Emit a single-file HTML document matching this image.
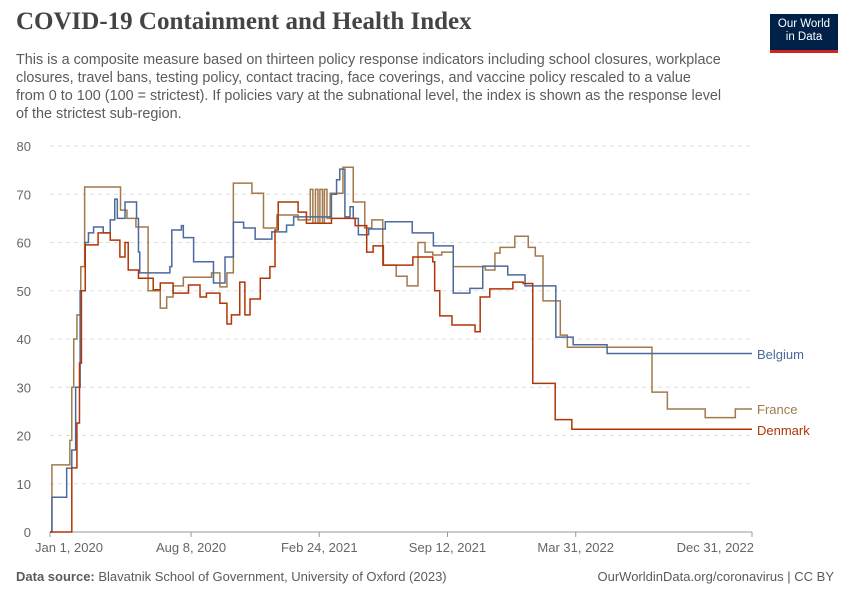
<!DOCTYPE html>
<html><head><meta charset="utf-8"><style>
body{margin:0;background:#fff;width:850px;height:600px;overflow:hidden;font-family:"Liberation Sans",sans-serif;}
#t{position:absolute;left:16px;top:8px;font-family:"Liberation Serif",serif;font-size:25px;font-weight:bold;color:#444;}
#s{position:absolute;left:16px;top:51px;white-space:nowrap;font-size:14.4px;line-height:18px;color:#5b5b5b;}
#logo{position:absolute;left:770px;top:14px;width:68px;height:39px;background:#002147;color:#fff;font-size:11.5px;line-height:13px;text-align:center;padding-top:4px;box-sizing:border-box;border-bottom:3px solid #ce261e;}
.f{position:absolute;top:569px;font-size:13px;color:#5b5b5b;}
</style></head><body>
<div id="t">COVID-19 Containment and Health Index</div>
<div id="s">This is a composite measure based on thirteen policy response indicators including school closures, workplace<br>closures, travel bans, testing policy, contact tracing, face coverings, and vaccine policy rescaled to a value<br>from 0 to 100 (100 = strictest). If policies vary at the subnational level, the index is shown as the response level<br>of the strictest sub-region.</div>
<div id="logo">Our World<br>in Data</div>
<div class="f" style="left:16px"><b>Data source:</b> Blavatnik School of Government, University of Oxford (2023)</div>
<div class="f" style="right:16px">OurWorldinData.org/coronavirus | CC BY</div>
<svg id="c" width="850" height="600" style="position:absolute;left:0;top:0"></svg>
<script>
const yTicks=[0,10,20,30,40,50,60,70,80];
const xTickDays=[0,220,420,620,820,1095];
const xTickLabels=["Jan 1, 2020","Aug 8, 2020","Feb 24, 2021","Sep 12, 2021","Mar 31, 2022","Dec 31, 2022"];
const seriesNames=["Belgium","France","Denmark"];
const seriesColors=["#4c6a9c","#a2794b","#b13507"];
const belgium=[[0,0],[3,7.2],[26,13.2],[34,17],[40,30],[47,50],[55,60],[60,62],[68,63.2],[83,62],[94,64.7],[101,69],[105,65],[109,65],[117,68.4],[135,65],[138,58],[140,53.7],[187,55],[190,62.6],[200,62.6],[205,63.5],[208,61],[224,56],[255,51.6],[273,57],[286,64.2],[302,63],[320,60.7],[346,62.2],[369,63.6],[380,65.3],[439,70],[447,73],[452,75.2],[460,65.3],[468,67.4],[473,65],[481,61.6],[497,62.8],[523,64.3],[565,62],[598,59.3],[629,49.5],[655,50.5],[675,55.1],[714,53.3],[741,51],[789,40.4],[816,38.8],[869,37],[1095,37]];
const france=[[0,0],[3,13.9],[31,19],[34,30],[37,40],[42,45],[48,55],[54,71.5],[110,66.7],[120,65],[134,63.2],[153,50],[172,46.4],[182,48.7],[192,51],[208,52.8],[252,53.7],[265,50.8],[276,53.7],[286,72.3],[315,70.2],[333,63],[354,65.7],[387,64.7],[406,71],[410,64],[414,71],[418,64],[421,71],[425,64],[428,71],[432,65],[437,70.2],[457,75.6],[473,68.4],[491,63],[502,64.7],[519,55.3],[540,53],[557,51],[574,60],[585,58],[597,57.4],[611,58],[629,55],[679,54.3],[694,57.8],[702,59],[725,61.3],[746,59],[757,57.2],[769,47.9],[796,40.8],[807,38.3],[939,29],[963,25.5],[1022,23.7],[1069,25.5],[1095,25.5]];
const denmark=[[0,0],[34,13.3],[42,22.6],[46,35],[49,50],[55,59.5],[75,62],[94,60.5],[109,57],[117,60],[122,54.3],[138,52.6],[161,50.2],[172,51.6],[192,49.5],[216,51.2],[234,48.7],[244,49.5],[265,47.4],[276,43.1],[283,45],[296,51.8],[304,45],[312,48.3],[328,52.6],[343,55],[351,62.6],[356,68.4],[387,66.3],[400,64],[439,65],[476,63.5],[494,58],[504,59.3],[520,55.3],[566,57],[597,56],[600,50],[608,44.8],[627,42.9],[663,41.5],[671,48.7],[686,50.4],[722,51.8],[738,51.5],[753,30.8],[788,23.3],[814,21.3],[1095,21.3]];
const allSeries=[belgium,france,denmark];
const labelY=[354,409,430];
const X=d=>50+d*(702/1095), Y=v=>532-v*(386/80);
const svg=document.getElementById('c'),NS='http://www.w3.org/2000/svg';
function mk(tag,at){const e=document.createElementNS(NS,tag);for(const k in at)e.setAttribute(k,at[k]);svg.appendChild(e);return e;}
yTicks.forEach(v=>{
 if(v>0){const g=mk('line',{x1:50,x2:752,y1:Y(v),y2:Y(v),stroke:'#ddd','stroke-dasharray':'4,4'});
 
 }
 const t=mk('text',{x:31,y:Y(v)+5,'text-anchor':'end','font-size':13,fill:'#666','font-family':'Liberation Sans, sans-serif'});t.textContent=v;
 
 
});
const ax=mk('line',{x1:50,x2:752,y1:532,y2:532,stroke:'#999'});


xTickDays.forEach((d,i)=>{
 const tk=mk('line',{x1:X(d),x2:X(d),y1:532,y2:537,stroke:'#999'});
 
 
 const t=mk('text',{x:X(d),y:552,'text-anchor':i==0?'start':(i==5?'end':'middle'),'font-size':13,fill:'#666','font-family':'Liberation Sans, sans-serif'});
 if(i==0)t.setAttribute('x',X(d)-15); if(i==5)t.setAttribute('x',X(d)+2);
 t.textContent=xTickLabels[i];
 
 
});
[1,0,2].forEach(si=>{
 const s=allSeries[si];let d='M'+X(s[0][0])+','+Y(s[0][1]);
 for(let i=1;i<s.length;i++){d+='H'+X(s[i][0])+'V'+Y(s[i][1]);}
 const p=mk('path',{d:d,fill:'none',stroke:seriesColors[si],'stroke-width':1.5});
 
 
 const t=mk('text',{x:757,y:labelY[si]+5,'font-size':13,fill:seriesColors[si],'font-family':'Liberation Sans, sans-serif'});t.textContent=seriesNames[si];
 
 
});
</script>
</body></html>
